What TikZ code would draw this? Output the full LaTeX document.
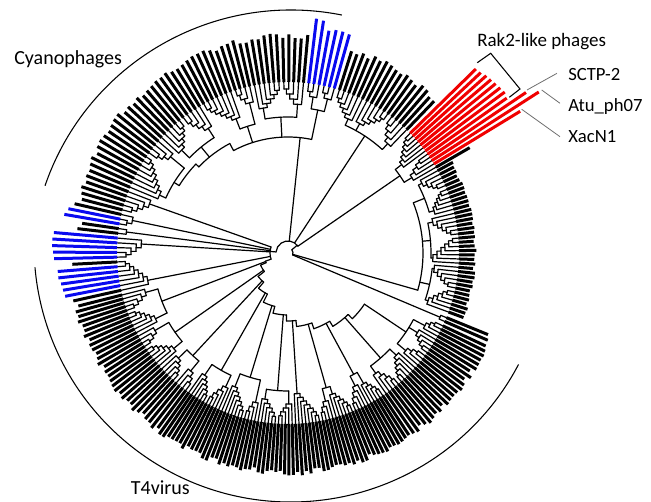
\documentclass[tikz,border=0pt]{standalone}
\usepackage{fontspec}
\setmainfont{Carlito}
\definecolor{barred}{RGB}{240,0,0}
\definecolor{barblue}{RGB}{10,10,240}
\definecolor{leadgray}{RGB}{110,110,110}
\def\Rin{171}
\def\gnone{none}
% ladder (caterpillar) clade: #1 first leaf angle, #2 step, #3 leaves, #4 deepest node radius, #5 radius step
\newcommand\ladder[5]{%
  \pgfmathtruncatemacro\kmax{#3-2}%
  \pgfmathsetmacro\phinit{#1+(#3-1)*(#2)}%
  \xdef\phin{\phinit}%
  \foreach \kk in {\kmax,...,0}{%
    \pgfmathsetmacro\lth{#1+\kk*(#2)}%
    \pgfmathsetmacro\rk{#4-(\kmax-\kk)*(#5)}%
    \ifnum\kk=\kmax\relax \edef\rkk{\Rin}\else\pgfmathsetmacro\rkk{\rk+(#5)}\fi
    \draw[tree] (\lth:\rk) -- (\lth:\Rin);
    \draw[tree] (\lth:\rk) arc[start angle=\lth, end angle=\phin, radius=\rk];
    \draw[tree] (\phin:\rk) -- (\phin:\rkk);
    \pgfmathsetmacro\ph{(\lth+\phin)/2}%
    \xdef\phin{\ph}%
  }%
  \pgfmathsetmacro\rootr{#4-\kmax*(#5)}%
  \xdef\lroot{\phin}\xdef\lrootr{\rootr}%
}
% group of ladders joined at radius #1
\newcommand\grp[2]{%
  \gdef\gfirst{none}%
  \foreach \ga/\gs/\gn/\grt/\gdr in {#2}{%
    \ladder{\ga}{\gs}{\gn}{\grt}{\gdr}%
    \draw[tree] (\lroot:#1) -- (\lroot:\lrootr);
    \ifx\gfirst\gnone\xdef\gfirst{\lroot}\fi
    \xdef\glast{\lroot}%
  }%
  \draw[tree] (\gfirst:#1) arc[start angle=\gfirst, end angle=\glast, radius=#1];
  \pgfmathsetmacro\gmid{(\gfirst+\glast)/2}%
  \xdef\groot{\gmid}%
}
% inner spiral backbone
\newcommand\backbone[2]{%
  \xdef\bbpsi{#1}%
  \foreach \bbg/\bbr/\bbrj/\bbrn in {#2}{%
    \pgfmathsetmacro\gval{\bbg}%
    \pgfmathsetmacro\pnext{\gval+3}%
    \draw[tree] (\gval:\bbr) -- (\gval:\bbrj);
    \ifdim\bbrn pt>0pt
      \draw[tree] (\bbpsi:\bbr) arc[start angle=\bbpsi, end angle=\pnext, radius=\bbr];
      \draw[tree] (\pnext:\bbr) -- (\pnext:\bbrn);
      \xdef\bbpsi{\pnext}%
    \else
      \draw[tree] (\bbpsi:\bbr) arc[start angle=\bbpsi, end angle=\gval, radius=\bbr];
    \fi
  }}
% bars: #1 start angle, #2 step, #3 count, #4 outer radius, #5 colour, #6 jitter
\newcommand\barset[6]{%
  \foreach \bj in {1,...,#3}{%
    \pgfmathsetmacro\ba{#1+(\bj-1)*(#2)}%
    \pgfmathsetmacro\br{#4+(#6)*rand}%
    \draw[bar,#5] (\ba:\Rin) -- (\ba:\br);
  }}
\begin{document}
\begin{tikzpicture}[x=0.75pt,y=0.75pt,
  tree/.style={line width=0.9pt,line cap=round,line join=round},
  bar/.style={line width=2.25pt},
  lbl/.style={inner sep=0pt,anchor=base west,font=\fontsize{14}{17}\selectfont},
  lead/.style={draw=leadgray,line width=0.6pt},
  cladearc/.style={line width=0.8pt}]
\useasboundingbox (0,0) rectangle (651,502);
\pgfmathsetseed{3}
\begin{scope}[shift={(288,249)}]
% ---------- top / cyanophages ----------
\grp{146}{74.3/1.75/3/164/5, 79.55/1.75/3/163/5}\xdef\gB{\groot}
\grp{136}{84.8/1.65/5/164/5, 101.3/-1.65/6/163/4}\xdef\gCa{\groot}
\grp{133}{102.95/1.65/4/165/5, 109.55/1.65/7/164/4}\xdef\gCb{\groot}
\grp{137}{121.1/1.65/5/163/5, 137.6/-1.65/6/164/4}\xdef\gCc{\groot}
\grp{134}{139.25/1.65/4/162/5, 157.4/-1.65/8/165/4}\xdef\gCd{\groot}
\draw[tree] (\gB:116) arc[start angle=\gB, end angle=118, radius=116];
\draw[tree] (\gB:116) -- (\gB:146);
\draw[tree] (\gCa:116) -- (\gCa:136);
\draw[tree] (\gCb:116) -- (\gCb:133);
\draw[tree] (118:116) -- (118:124);
\draw[tree] (118:124) arc[start angle=118, end angle=136, radius=124];
\draw[tree] (\gCc:124) -- (\gCc:137);
\draw[tree] (136:124) -- (136:128);
\draw[tree] (136:128) arc[start angle=136, end angle=\gCd, radius=128];
\draw[tree] (\gCd:128) -- (\gCd:134);
\draw[tree] (84:12) -- (84:116);
% ---------- upper right / red ----------
\grp{140}{46.1/1.65/5/163/5, 62.6/-1.65/6/164/4, 64.25/1.65/6/163/4}\xdef\gUR{\groot}
\grp{136}{30.1/1.3/5/160/5, 36.6/1.3/7/164/4}\xdef\gRed{\groot}
\draw[tree] (\gUR:12) -- (\gUR:140);
\draw[tree] (\gRed:12) -- (\gRed:136);
\draw[tree] (\gRed:12) arc[start angle=\gRed, end angle=175, radius=12];
% ---------- left ----------
\ladder{159.0}{1.6}{5}{162}{5}\xdef\lA{\lroot}\draw[tree] (\lroot:18) -- (\lroot:\lrootr);
\ladder{167.0}{1.6}{3}{164}{5}\draw[tree] (\lroot:18) -- (\lroot:\lrootr);
\ladder{171.8}{1.6}{2}{163}{5}\draw[tree] (\lroot:18) -- (\lroot:\lrootr);
\ladder{175.0}{1.6}{5}{162}{5}\draw[tree] (\lroot:18) -- (\lroot:\lrootr);
\ladder{192.6}{-1.6}{7}{163}{4}\draw[tree] (\lroot:18) -- (\lroot:\lrootr);
\draw[tree] (\lA:18) arc[start angle=\lA, end angle=200, radius=18];
\draw[tree] (175:12) -- (175:18);
\draw[tree] (200:18) -- (200:24);
% ---------- bottom (T4) ----------
\grp{135}{194.2/1.35/5/163/5, 207.7/-1.35/6/164/4}\xdef\gTa{\groot}
\grp{138}{209.05/1.35/4/164/5, 221.2/-1.35/6/165/4}\xdef\gTb{\groot}
\grp{140}{222.55/1.35/5/164/4, 229.3/1.35/4/163/5}\xdef\gTc{\groot}
\grp{135}{234.6/1.15/6/164/4, 246.1/-1.15/5/163/5}\xdef\gTd{\groot}
\grp{130}{247.25/1.15/7/164/4, 258.75/-1.15/4/163/5}\xdef\gTe{\groot}
\grp{138}{259.9/1.15/6/164/4, 271.4/-1.15/5/163/4}\xdef\gTf{\groot}
\grp{128}{272.55/1.15/8/165/4}\xdef\gTg{\groot}
\grp{140}{285.2/-1.15/4/163/5, 286.35/1.15/6/164/4}\xdef\gTh{\groot}
\grp{138}{297.85/-1.15/5/164/5, 299.0/1.15/5/163/4}\xdef\gTi{\groot}
\grp{140}{304.9/1.3/5/164/5, 317.9/-1.3/6/165/4}\xdef\gTj{\groot}
\grp{142}{319.2/1.3/4/163/5, 329.6/-1.3/5/164/4, 330.9/1.3/4/163/4}\xdef\gTk{\groot}
\backbone{200}{\gTa/24/135/30, \gTb/30/138/38, \gTc/38/140/46, \gTd/46/135/55,
  \gTe/55/130/62, \gTf/62/138/68, \gTg/68/128/74, \gTh/74/140/80,
  \gTi/80/138/86, \gTj/86/140/92, \gTk/92/142/0}
% ---------- right ----------
\ladder{336.4}{1.4}{2}{165}{5}\xdef\pP{\lroot}\draw[tree] (\lroot:5) -- (\lroot:\lrootr);
\grp{145}{339.8/1.4/6/164/4, 355.2/-1.4/6/163/4}\xdef\gRa{\groot}
\grp{143}{356.6/1.4/7/165/4, 373.4/-1.4/6/164/4}\xdef\gRb{\groot}
\grp{147}{374.8/1.4/6/164/3, 388.8/-1.4/5/163/4}\xdef\gRc{\groot}
\draw[tree] (344:135) arc[start angle=344, end angle=\gRc, radius=135];
\draw[tree] (\gRa:135) -- (\gRa:145);
\draw[tree] (\gRb:135) -- (\gRb:143);
\draw[tree] (\gRc:135) -- (\gRc:147);
\draw[tree] (344:5) -- (344:135);
% ---------- root ----------
\draw[tree] (\pP:5) arc[start angle=\pP, end angle=400, radius=5];
\draw[tree] (40:5) -- (40:12);
% ---------- bars ----------
\barset{194.2}{1.35}{30}{219}{black}{3}
\barset{234.6}{1.15}{61}{220}{black}{3}
\barset{304.9}{1.3}{24}{219}{black}{3}
\draw[bar] (336.4:\Rin) -- (336.4:218);
\draw[bar] (337.8:\Rin) -- (337.8:216);
\barset{339.8}{1.4}{36}{187}{black}{1.5}
\draw[bar] (30.1:\Rin) -- (30.1:210);
\foreach \ba/\br in {31.4/272, 32.7/298, 34.0/287, 35.3/268, 36.6/270, 37.9/269,
  39.2/268, 40.5/267, 41.8/266, 43.1/264, 44.4/263}{
  \draw[bar,barred] (\ba:\Rin) -- (\ba:\br);}
\barset{46.1}{1.65}{17}{213}{black}{3}
\foreach \ba/\br in {74.3/227, 76.05/228, 77.8/228, 79.55/226, 81.3/235, 83.05/236}{
  \draw[bar,barblue] (\ba:\Rin) -- (\ba:\br);}
\barset{84.8}{1.65}{45}{217}{black}{3}
\foreach \ba/\br/\bc in {159.0/216/black, 160.6/214/black, 162.2/217/black,
  163.8/215/black, 165.4/213/black, 167.0/219/black, 168.6/224/barblue,
  170.2/227/barblue, 171.8/208/black, 173.4/212/black, 175.0/235/barblue,
  176.6/236/barblue, 178.2/236/barblue, 179.8/235/barblue, 181.4/234/barblue,
  183.0/216/black, 184.6/231/barblue, 186.2/231/barblue, 187.8/229/barblue,
  189.4/228/barblue, 191.0/227/barblue, 192.6/220/black}{
  \draw[bar,\bc] (\ba:\Rin) -- (\ba:\br);}
\end{scope}
% ---------- clade arcs ----------
\draw[cladearc] (291,232) ++(161.1:260) arc[start angle=161.1, end angle=78.7, radius=260];
\draw[cladearc] (291,257) ++(185:257) arc[start angle=185, end angle=332.3, radius=257];
% ---------- labels ----------
\node[lbl,font=\fontsize{15}{18}\selectfont] (cyan) at (14,437) {Cyanophages};
\node[lbl,anchor=base east,font=\fontsize{15}{18}\selectfont] (t4) at (190,7) {T4virus};
\node[lbl,font=\fontsize{14.25}{17}\selectfont] (rak) at (477,455) {Rak2-like phages};
\node[lbl] (sctp) at (568,421) {SCTP-2};
\node[lbl] (atu) at (568,390) {Atu\_ph07};
\node[lbl] (xac) at (568,359) {XacN1};
% bracket
\coordinate (br1) at (477.3,439.3);
\coordinate (br2) at (490.7,448.7);
\coordinate (br3) at (520,413);
\coordinate (br4) at (509.3,404.7);
\draw[line width=0.8pt] (br1) -- (br2) -- (br3) -- (br4);
% leader lines
\coordinate (sS) at (527,412);
\coordinate (sE) at (557,428.7);
\coordinate (aS) at (541.7,412);
\coordinate (aE) at (560,398.7);
\coordinate (xS) at (521.7,392.7);
\coordinate (xE) at (560,365.3);
\draw[lead] (sS) -- (sE);
\draw[lead] (aS) -- (aE);
\draw[lead] (xS) -- (xE);
\end{tikzpicture}
\end{document}
